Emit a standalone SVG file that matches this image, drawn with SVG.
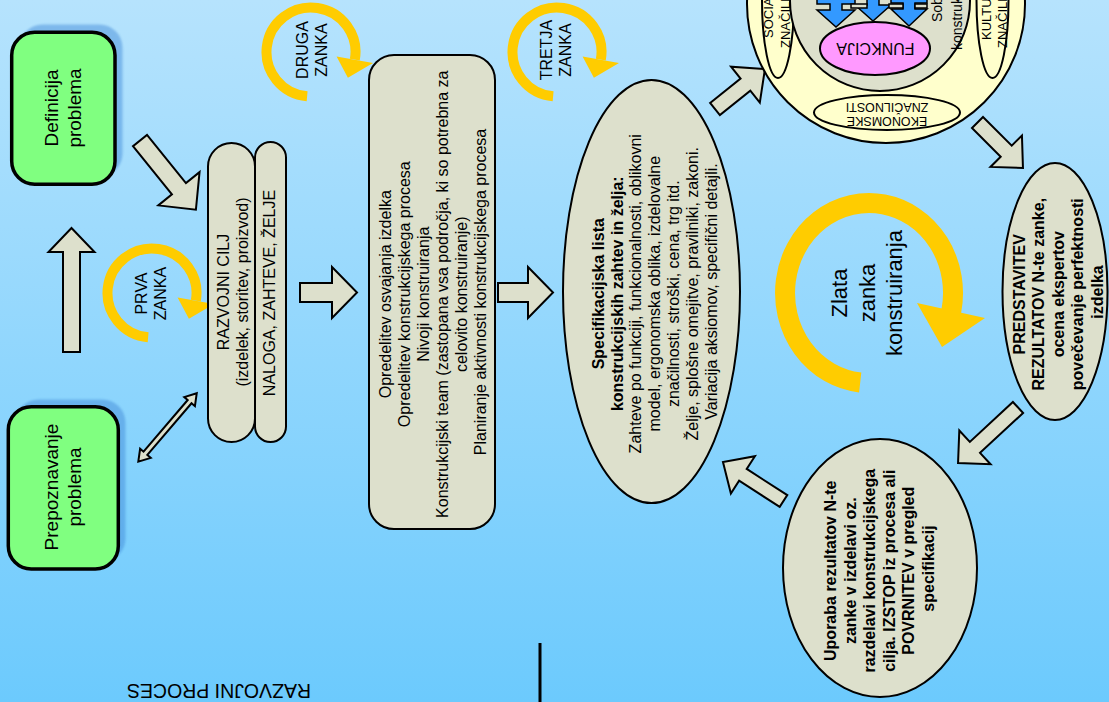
<svg xmlns="http://www.w3.org/2000/svg" width="1109" height="702" viewBox="0 0 1109 702">
  <defs>
    <linearGradient id="sky" x1="0" y1="0" x2="0" y2="1">
      <stop offset="0" stop-color="#b6e3fd"/>
      <stop offset="1" stop-color="#6ccafd"/>
    </linearGradient>
    <filter id="soft" x="-10%" y="-10%" width="120%" height="120%">
      <feGaussianBlur stdDeviation="1.2"/>
    </filter>
    <!-- small circular loop arrow, centred on 0,0 -->
    <g id="loop">
      <path d="M -3.88 44.33 A 44.5 44.5 0 1 1 43.82 7.73" class="ring"/>
      <polygon points="25.6,4.5 62,10.9 36.9,25.8" class="ringhead"/>
    </g>
    <style>
      .green { fill: #80ff80; stroke: #000; stroke-width: 3.5; }
      .shadow { fill: #3d86d6; opacity: 0.45; filter: url(#soft); }
      .shape { fill: #dde0cc; stroke: #000; stroke-width: 2; }
      .arrow { fill: #dde0cc; stroke: #000; stroke-width: 2; stroke-linejoin: miter; }
      .ring { fill: none; stroke: #ffcc00; stroke-width: 10; }
      .ringhead { fill: #ffcc00; }
      .txt { font-family: "Liberation Sans", Arial, sans-serif; fill: #000; }
      .f16 { font-size: 16px; }
      .f19 { font-size: 19px; }
      .b { font-weight: bold; }
      .mid { text-anchor: middle; }
    </style>
  </defs>

  <rect x="0" y="0" width="1109" height="702" fill="url(#sky)"/>

  <!-- loop arrows -->
  <g id="loops">
    <use href="#loop" x="311" y="52"/>
    <use href="#loop" x="152" y="293"/>
    <use href="#loop" x="557" y="52"/>
    <g id="zlata-loop">
      <path d="M 860.2 382.5 A 84 90 0 1 1 951.2 311.7" fill="none" stroke="#ffcc00" stroke-width="20"/>
      <polygon points="917,303 985,318 942,347" fill="#ffcc00"/>
    </g>
    <text class="txt f16 mid" transform="translate(312,50) rotate(-90)"><tspan x="0" y="-3.9">DRUGA</tspan><tspan x="0" y="15.1">ZANKA</tspan></text>
    <text class="txt f16 mid" transform="translate(150.5,293.5) rotate(-90)"><tspan x="0" y="-3.9">PRVA</tspan><tspan x="0" y="15.1">ZANKA</tspan></text>
    <text class="txt f16 mid" transform="translate(556,50) rotate(-90)"><tspan x="0" y="-3.9">TRETJA</tspan><tspan x="0" y="15.1">ZANKA</tspan></text>
    <text class="txt mid" font-size="22" transform="translate(867,293) rotate(-90)"><tspan x="0" y="-19.8">Zlata</tspan><tspan x="0" y="7.7">zanka</tspan><tspan x="0" y="35.2">konstruiranja</tspan></text>
  </g>

  <!-- connectors -->
  <g id="connectors">
    <polygon class="arrow" transform="translate(140,140.5) rotate(51.1)" points="0,-9 62,-9 62,-26.5 89,0 62,26.5 62,9 0,9"/>
    <polygon class="arrow" transform="translate(71.5,352) rotate(-90)" points="0,-8.5 100,-8.5 100,-23 124,0 100,23 100,8.5 0,8.5"/>
    <polygon class="arrow" transform="translate(300,292.5)" points="0,-9.5 32,-9.5 32,-25.5 57,0 32,25.5 32,9.5 0,9.5"/>
    <polygon class="arrow" transform="translate(498,292.5)" points="0,-9.5 30,-9.5 30,-25.5 55,0 30,25.5 30,9.5 0,9.5"/>
    <polygon class="arrow" transform="translate(715,109) rotate(-38.7)" points="0,-7.8 39,-7.8 39,-23 64,0 39,23 39,7.8 0,7.8"/>
    <polygon class="arrow" transform="translate(977.5,122.5) rotate(45)" points="0,-7.8 40.6,-7.8 40.6,-22.25 64.3,0 40.6,22.25 40.6,7.8 0,7.8"/>
    <polygon class="arrow" transform="translate(1018,407.5) rotate(137.2)" points="0,-7.5 58.7,-7.5 58.7,-23 81.7,0 58.7,23 58.7,7.5 0,7.5"/>
    <polygon class="arrow" transform="translate(783.5,501) rotate(-147.2)" points="0,-7 48.3,-7 48.3,-22.2 72,0 48.3,22.2 48.3,7 0,7"/>
    <polygon class="arrow" transform="translate(138.3,461.7) rotate(-49.5)" points="0,0 11,-7 11,-2.5 79,-2.5 79,-7 90,0 79,7 79,2.5 11,2.5 11,7"/>
  </g>

  <!-- problem definition -->
  <g id="definicija">
    <rect class="shadow" x="19.5" y="24.5" width="103" height="152" rx="23"/>
    <rect class="green" x="11.7" y="32.3" width="103.3" height="152" rx="23"/>
    <text class="txt f19 mid" transform="translate(62.5,108) rotate(-90)"><tspan x="0" y="-4.85">Definicija</tspan><tspan x="0" y="18.15">problema</tspan></text>
  </g>

  <!-- problem recognition -->
  <g id="prepoznavanje">
    <rect class="shadow" x="15.5" y="399.5" width="110" height="162" rx="23"/>
    <rect class="green" x="8.3" y="406.7" width="110" height="162.3" rx="23"/>
    <text class="txt f19 mid" transform="translate(63,487) rotate(-90)"><tspan x="0" y="-4.85">Prepoznavanje</tspan><tspan x="0" y="18.15">problema</tspan></text>
  </g>

  <!-- development goal pills -->
  <g id="naloga">
    <rect class="shape" x="255" y="142" width="31" height="300" rx="15.5"/>
    <text class="txt f16 mid" transform="translate(269,293) rotate(-90)"><tspan x="0" y="5.6">NALOGA, ZAHTEVE, ŽELJE</tspan></text>
  </g>
  <g id="razvojni-cilj">
    <rect class="shape" x="208" y="143" width="47" height="299" rx="23.5"/>
    <text class="txt f16 mid" transform="translate(232.5,292) rotate(-90)"><tspan x="0" y="-3.9">RAZVOJNI CILJ</tspan><tspan x="0" y="15.1">(izdelek, storitev, proizvod)</tspan></text>
  </g>

  <!-- design process definition -->
  <g id="opredelitev">
    <rect class="shape" x="369" y="55" width="126" height="474" rx="25"/>
    <text class="txt f16 mid" transform="translate(433,292) rotate(-90)">
      <tspan x="0" y="-41.9">Opredelitev osvajanja izdelka</tspan>
      <tspan x="0" y="-22.9">Opredelitev konstrukcijskega procesa</tspan>
      <tspan x="0" y="-3.9">Nivoji konstruiranja</tspan>
      <tspan x="0" y="15.1">Konstrukcijski team (zastopana vsa področja, ki so potrebna za</tspan>
      <tspan x="0" y="34.1">celovito konstruiranje)</tspan>
      <tspan x="0" y="53.1">Planiranje aktivnosti konstrukcijskega procesa</tspan>
    </text>
  </g>

  <!-- specification list -->
  <g id="specifikacija">
    <ellipse class="shape" cx="651.5" cy="291.5" rx="88.5" ry="211.5"/>
    <text class="txt f16 mid" transform="translate(654.5,291.5) rotate(-90)">
      <tspan class="b" x="0" y="-50.8">Specifikacijska lista</tspan>
      <tspan class="b" x="0" y="-32">konstrukcijskih zahtev in želja:</tspan>
      <tspan x="0" y="-13.2">Zahteve po funkciji, funkcionalnosti, oblikovni</tspan>
      <tspan x="0" y="5.6">model, ergonomska oblika, izdelovalne</tspan>
      <tspan x="0" y="24.4">značilnosti, stroški, cena, trg itd.</tspan>
      <tspan x="0" y="43.2">Želje, splošne omejitve, pravilniki, zakoni.</tspan>
      <tspan x="0" y="62">Variacija aksiomov, specifični detajli.</tspan>
    </text>
  </g>

  <!-- product characteristics circle -->
  <g id="znacilnosti" class="txt">
    <circle cx="886" cy="4" r="139" fill="#ffffcc" stroke="#000" stroke-width="2"/>
    <ellipse cx="778" cy="0" rx="16" ry="78" fill="#ffffcc" stroke="#000" stroke-width="2"/>
    <ellipse cx="992.5" cy="0" rx="16" ry="78" fill="#ffffcc" stroke="#000" stroke-width="2"/>
    <text font-size="13" transform="translate(773,38) rotate(-90)">SOCIA</text>
    <text font-size="13" transform="translate(790,48) rotate(-90)">ZNAČILN</text>
    <text font-size="13" transform="translate(991,40) rotate(-90)">KULTU</text>
    <text font-size="13" transform="translate(1007,48) rotate(-90)">ZNAČILN</text>
    <circle cx="880" cy="1" r="90" fill="#dde0cc" stroke="#000" stroke-width="2"/>
    <text font-size="14" transform="translate(942,22) rotate(-90)">Sob</text>
    <text font-size="14" transform="translate(962,50) rotate(-90)">konstruk</text>
    <g fill="#3399ff" stroke="#000" stroke-width="1.5" stroke-linejoin="miter">
      <polygon points="817,-5 855,-5 855,4 842,4 842,10 855,10 836,27 817,10 830,10 830,4 817,4"/>
      <polygon points="855,-5 891,-5 891,-1 879,-1 879,5 891,5 873,21 855,5 867,5 867,-1 855,-1"/>
      <polygon points="891,-5 927,-5 927,3 915,3 915,9 927,9 909,26 891,9 903,9 903,3 891,3"/>
    </g>
    <g fill="#dde0cc" stroke="#000" stroke-width="1.5">
      <rect x="851" y="4" width="16" height="4"/>
      <rect x="889" y="4" width="14" height="4"/>
      <rect x="915" y="4" width="12" height="4"/>
    </g>
    <ellipse cx="875" cy="48.5" rx="55" ry="26.5" fill="#ff99ff" stroke="#000" stroke-width="2"/>
    <text font-size="16" text-anchor="middle" transform="translate(875.5,49) rotate(180)" y="5.6">FUNKCIJA</text>
    <ellipse cx="887" cy="112.5" rx="73" ry="17.5" fill="#ffffcc" stroke="#000" stroke-width="2"/>
    <text font-size="12.5" text-anchor="middle" transform="translate(887,114) rotate(180)"><tspan x="0" y="-2.6">EKONOMSKE</tspan><tspan x="0" y="11.4">ZNAČILNOSTI</tspan></text>
  </g>

  <!-- presentation of results -->
  <g id="predstavitev">
    <ellipse class="shape" cx="1055" cy="291.5" rx="52.5" ry="128.5"/>
    <text class="txt f16 b mid" transform="translate(1058,292) rotate(-90)">
      <tspan x="0" y="-33.4">PREDSTAVITEV</tspan>
      <tspan x="0" y="-13.9">REZULTATOV N-te zanke,</tspan>
      <tspan x="0" y="5.6">ocena ekspertov</tspan>
      <tspan x="0" y="25.1">povečevanje perfektnosti</tspan>
      <tspan x="0" y="44.6">izdelka</tspan>
    </text>
  </g>

  <!-- use of results -->
  <g id="uporaba">
    <ellipse class="shape" cx="880" cy="568" rx="97" ry="129"/>
    <text class="txt f16 b mid" transform="translate(879.5,568.5) rotate(-90)">
      <tspan x="0" y="-43.15">Uporaba rezultatov N-te</tspan>
      <tspan x="0" y="-23.65">zanke v izdelavi oz.</tspan>
      <tspan x="0" y="-4.15">razdelavi konstrukcijskega</tspan>
      <tspan x="0" y="15.35">cilja. IZSTOP iz procesa ali</tspan>
      <tspan x="0" y="34.85">POVRNITEV v pregled</tspan>
      <tspan x="0" y="54.35">specifikacij</tspan>
    </text>
  </g>

  <!-- title and divider -->
  <g id="naslov">
    <text class="txt mid" font-size="19.5" transform="translate(219,690.5) rotate(180)" y="6.8">RAZVOJNI PROCES</text>
    <line x1="540" y1="643" x2="540" y2="702" stroke="#000" stroke-width="3"/>
  </g>
</svg>
